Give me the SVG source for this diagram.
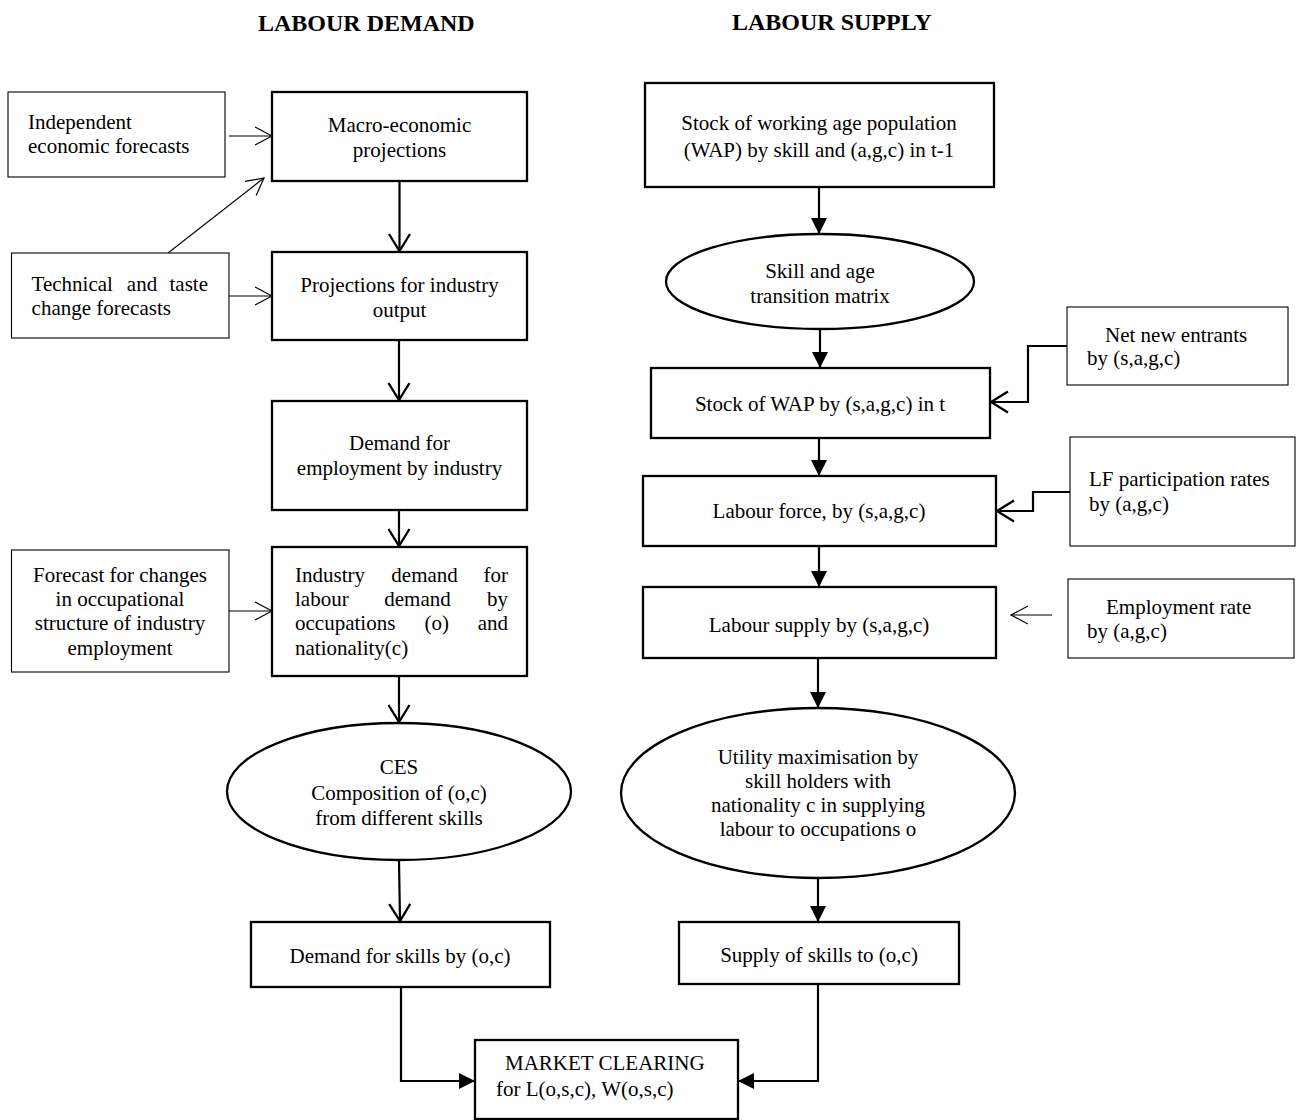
<svg xmlns="http://www.w3.org/2000/svg" width="1298" height="1120" viewBox="0 0 1298 1120">
<defs>
<marker id="openThick" markerUnits="userSpaceOnUse" viewBox="-20 -13 22 26" refX="0" refY="0" markerWidth="22" markerHeight="26" orient="auto" overflow="visible">
<path d="M-17,-10.5 L0,0 L-17,10.5" fill="none" stroke="#000" stroke-width="2.3"/>
</marker>
<marker id="openThin" markerUnits="userSpaceOnUse" viewBox="-20 -12 22 24" refX="0" refY="0" markerWidth="22" markerHeight="24" orient="auto" overflow="visible">
<path d="M-17,-9 L0,0 L-17,9" fill="none" stroke="#000" stroke-width="1.2"/>
</marker>
<marker id="filled" markerUnits="userSpaceOnUse" viewBox="-18 -10 20 20" refX="0" refY="0" markerWidth="20" markerHeight="20" orient="auto" overflow="visible">
<path d="M-16,-8 L0,0 L-16,8 Z" fill="#000" stroke="none"/>
</marker>
</defs>
<style>
text{font-family:"Liberation Serif","Times New Roman",serif;font-size:21px;fill:#000}
.title{font-weight:bold;font-size:24px}
.c{text-anchor:middle}
.e{text-anchor:end}
.main{fill:#fff;stroke:#000;stroke-width:2.3}
.thin{fill:#fff;stroke:#000;stroke-width:1.1}
.con{fill:none;stroke:#000;stroke-width:2.2}
.conThin{fill:none;stroke:#000;stroke-width:1.1}
</style>
<rect width="1298" height="1120" fill="#fff"/>

<g id="titles">
<text class="title" x="258" y="31">LABOUR DEMAND</text>
<text class="title" x="732" y="30">LABOUR SUPPLY</text>
</g>

<g id="connectors">
<path class="conThin" d="M229,136 H272" marker-end="url(#openThin)"/>
<path class="conThin" d="M168,253 L264,178" marker-end="url(#openThin)"/>
<path class="conThin" d="M229,296 H272" marker-end="url(#openThin)"/>
<path class="conThin" d="M229,611 H272" marker-end="url(#openThin)"/>
<path class="con" d="M399.5,181 V251" marker-end="url(#openThick)"/>
<path class="con" d="M399,340 V400" marker-end="url(#openThick)"/>
<path class="con" d="M399,510 V546" marker-end="url(#openThick)"/>
<path class="con" d="M399,676 V722" marker-end="url(#openThick)"/>
<path class="con" d="M399,860 L400,921" marker-end="url(#openThick)"/>
<path class="con" d="M401,987 V1081 H475" marker-end="url(#filled)"/>
<path class="con" d="M819,187 V234" marker-end="url(#filled)"/>
<path class="con" d="M820,329 V368" marker-end="url(#filled)"/>
<path class="con" d="M819,437 V476" marker-end="url(#filled)"/>
<path class="con" d="M819,546 V587" marker-end="url(#filled)"/>
<path class="con" d="M818,658 V708" marker-end="url(#filled)"/>
<path class="con" d="M818,878 V922" marker-end="url(#filled)"/>
<path class="con" d="M818,984 V1081 H738" marker-end="url(#filled)"/>
<path class="con" d="M1067,346 H1028 V402 H991" marker-end="url(#openThick)"/>
<path class="con" d="M1070,492 H1033 V511 H997" marker-end="url(#openThick)"/>
<path class="conThin" d="M1052,615 H1011" marker-end="url(#openThin)"/>
</g>

<g id="independent">
<rect class="thin" x="8" y="92" width="217" height="85"/>
<text x="28" y="129">Independent</text>
<text x="28" y="153">economic forecasts</text>
</g>
<g id="technical">
<rect class="thin" x="11.5" y="253" width="217.5" height="85"/>
<text x="31.6" y="291">Technical</text>
<text class="c" x="142" y="291">and</text>
<text class="e" x="208" y="291">taste</text>
<text x="31.6" y="315">change forecasts</text>
</g>
<g id="forecast">
<rect class="thin" x="11.5" y="550" width="217.5" height="122"/>
<text class="c" x="120" y="582">Forecast for changes</text>
<text class="c" x="120" y="606">in occupational</text>
<text class="c" x="120" y="630">structure of industry</text>
<text class="c" x="120" y="655">employment</text>
</g>

<g id="macro">
<rect class="main" x="272" y="92" width="255" height="89"/>
<text class="c" x="399.5" y="132">Macro-economic</text>
<text class="c" x="399.5" y="157">projections</text>
</g>
<g id="projections">
<rect class="main" x="272" y="252" width="255" height="88"/>
<text class="c" x="399.5" y="292">Projections for industry</text>
<text class="c" x="399.5" y="317">output</text>
</g>
<g id="demand-employment">
<rect class="main" x="272" y="401" width="255" height="109"/>
<text class="c" x="399.5" y="450">Demand for</text>
<text class="c" x="399.5" y="475">employment by industry</text>
</g>
<g id="industry-demand">
<rect class="main" x="272" y="547" width="255" height="129"/>
<text x="295" y="582">Industry</text>
<text class="c" x="424.6" y="582">demand</text>
<text class="e" x="508" y="582">for</text>
<text x="295" y="606">labour</text>
<text class="c" x="417.5" y="606">demand</text>
<text class="e" x="508" y="606">by</text>
<text x="295" y="630">occupations</text>
<text class="c" x="436.7" y="630">(o)</text>
<text class="e" x="508" y="630">and</text>
<text x="295" y="655">nationality(c)</text>
</g>
<g id="ces">
<ellipse class="main" cx="399" cy="791.5" rx="172" ry="68.5"/>
<text class="c" x="399" y="774">CES</text>
<text class="c" x="399" y="800">Composition of (o,c)</text>
<text class="c" x="399" y="825">from different skills</text>
</g>
<g id="demand-skills">
<rect class="main" x="251" y="922" width="299" height="65"/>
<text class="c" x="400" y="963">Demand for skills by (o,c)</text>
</g>

<g id="stock-wap">
<rect class="main" x="645" y="83" width="349" height="104"/>
<text class="c" x="819" y="130">Stock of working age population</text>
<text class="c" x="819" y="157">(WAP) by skill and (a,g,c) in t-1</text>
</g>
<g id="transition">
<ellipse class="main" cx="820" cy="281.5" rx="154" ry="47.5"/>
<text class="c" x="820" y="278">Skill and age</text>
<text class="c" x="820" y="303">transition matrix</text>
</g>
<g id="net-entrants">
<rect class="thin" x="1067" y="307" width="221" height="78"/>
<text x="1105" y="342">Net new entrants</text>
<text x="1087" y="365">by (s,a,g,c)</text>
</g>
<g id="stock-t">
<rect class="main" x="651" y="368" width="339" height="70"/>
<text class="c" x="820" y="411">Stock of WAP by (s,a,g,c) in t</text>
</g>
<g id="labour-force">
<rect class="main" x="643" y="476" width="353" height="70"/>
<text class="c" x="819" y="518">Labour force, by (s,a,g,c)</text>
</g>
<g id="lf-participation">
<rect class="thin" x="1070" y="437" width="225" height="109"/>
<text x="1089" y="486">LF participation rates</text>
<text x="1089" y="511">by (a,g,c)</text>
</g>
<g id="labour-supply">
<rect class="main" x="643" y="587" width="353" height="71"/>
<text class="c" x="819" y="632">Labour supply by (s,a,g,c)</text>
</g>
<g id="employment-rate">
<rect class="thin" x="1068" y="579" width="226" height="79"/>
<text x="1106" y="614">Employment rate</text>
<text x="1087" y="638">by (a,g,c)</text>
</g>
<g id="utility">
<ellipse class="main" cx="818" cy="793" rx="197" ry="85"/>
<text class="c" x="818" y="764">Utility maximisation by</text>
<text class="c" x="818" y="788">skill holders with</text>
<text class="c" x="818" y="812">nationality c in supplying</text>
<text class="c" x="818" y="836">labour to occupations o</text>
</g>
<g id="supply-skills">
<rect class="main" x="679" y="922" width="280" height="62"/>
<text class="c" x="819" y="962">Supply of skills to (o,c)</text>
</g>
<g id="market-clearing">
<rect class="main" x="475" y="1040" width="263" height="79"/>
<text x="505" y="1070">MARKET CLEARING</text>
<text x="496" y="1096">for L(o,s,c), W(o,s,c)</text>
</g>
</svg>
